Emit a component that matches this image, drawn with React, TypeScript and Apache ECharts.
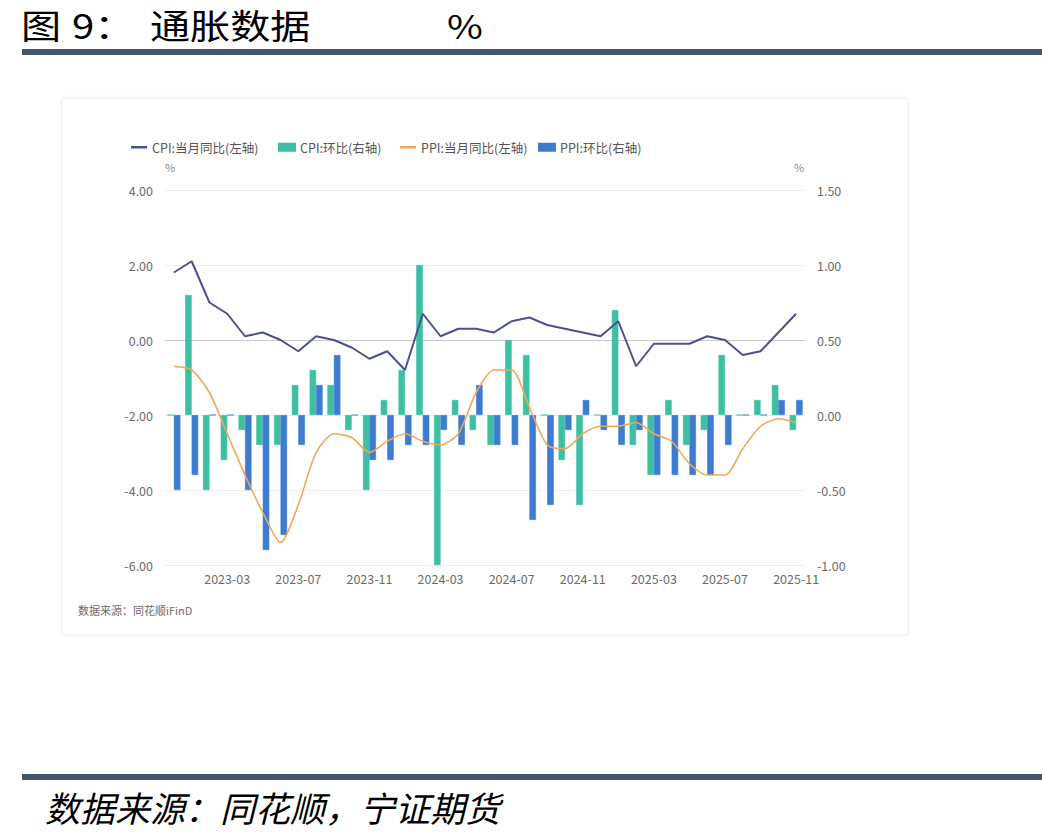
import React, { useEffect, useRef } from "react";
import * as echarts from "echarts";

// Monthly observations, 2022-12 through 2025-11
const months = [
  "2022-12", "2023-01", "2023-02", "2023-03", "2023-04", "2023-05", "2023-06",
  "2023-07", "2023-08", "2023-09", "2023-10", "2023-11", "2023-12", "2024-01",
  "2024-02", "2024-03", "2024-04", "2024-05", "2024-06", "2024-07", "2024-08",
  "2024-09", "2024-10", "2024-11", "2024-12", "2025-01", "2025-02", "2025-03",
  "2025-04", "2025-05", "2025-06", "2025-07", "2025-08", "2025-09", "2025-10",
  "2025-11",
];

// CPI year-on-year, % (left axis)
const cpiYoY = [
  1.8, 2.1, 1.0, 0.7, 0.1, 0.2, 0.0, -0.3, 0.1, 0.0, -0.2, -0.5, -0.3, -0.8,
  0.7, 0.1, 0.3, 0.3, 0.2, 0.5, 0.6, 0.4, 0.3, 0.2, 0.1, 0.5, -0.7, -0.1,
  -0.1, -0.1, 0.1, 0.0, -0.4, -0.3, 0.2, 0.7,
];

// CPI month-on-month, % (right axis)
const cpiMoM = [
  0.0, 0.8, -0.5, -0.3, -0.1, -0.2, -0.2, 0.2, 0.3, 0.2, -0.1, -0.5, 0.1, 0.3,
  1.0, -1.0, 0.1, -0.1, -0.2, 0.5, 0.4, 0.0, -0.3, -0.6, 0.0, 0.7, -0.2, -0.4,
  0.1, -0.2, -0.1, 0.4, 0.0, 0.1, 0.2, -0.1,
];

// PPI year-on-year, % (left axis)
const ppiYoY = [
  -0.7, -0.8, -1.4, -2.5, -3.6, -4.6, -5.4, -4.4, -3.0, -2.5, -2.6, -3.0, -2.7,
  -2.5, -2.7, -2.8, -2.5, -1.4, -0.8, -0.8, -1.8, -2.8, -2.9, -2.5, -2.3, -2.3,
  -2.2, -2.5, -2.7, -3.3, -3.6, -3.6, -2.9, -2.3, -2.1, -2.2,
];

// PPI month-on-month, % (right axis)
const ppiMoM = [
  -0.5, -0.4, 0.0, 0.0, -0.5, -0.9, -0.8, -0.2, 0.2, 0.4, 0.0, -0.3, -0.3, -0.2,
  -0.2, -0.1, -0.2, 0.2, -0.2, -0.2, -0.7, -0.6, -0.1, 0.1, -0.1, -0.2, -0.1,
  -0.4, -0.4, -0.4, -0.4, -0.2, 0.0, 0.0, 0.1, 0.1,
];

const seriesNames = [
  "CPI:当月同比(左轴)",
  "CPI:环比(右轴)",
  "PPI:当月同比(左轴)",
  "PPI:环比(右轴)",
];

const COLORS = {
  cpiLine: "#4d5090",
  cpiBar: "#3cbfa3",
  ppiLine: "#f2a65a",
  ppiBar: "#3d7ccf",
};

const CJK = '"Noto Sans CJK SC", "Noto Sans", sans-serif';

export default function App() {
  const ref = useRef<HTMLDivElement>(null);

  useEffect(() => {
    if (!ref.current) return;
    const chart = echarts.init(ref.current, undefined, { renderer: "svg" });

    const axisText = { color: "#6b6b6b", fontSize: 12.5, fontFamily: CJK };
    const legendText = { color: "#555", fontSize: 12.5, fontFamily: CJK };

    const heading = (text: string, x: number, size: number, y = 24) => ({
      type: "text",
      x,
      y,
      scaleX: 1.18,
      style: {
        text,
        font: `${size}px ${CJK}`,
        fill: "#000",
        verticalAlign: "middle",
      },
    });

    const legendAt = (name: string, left: number, isLine: boolean) => ({
      data: [{ name, icon: "rect" }],
      left,
      top: 136,
      itemWidth: 16,
      itemHeight: isLine ? 2.5 : 7,
      itemGap: 0,
      textStyle: legendText,
    });

    chart.setOption({
      animation: false,
      backgroundColor: "#ffffff",
      textStyle: { fontFamily: CJK },
      graphic: [
        // card behind the plot
        {
          type: "rect",
          z: -10,
          shape: { x: 62, y: 98, width: 846, height: 537, r: 3 },
          style: {
            fill: "#ffffff",
            stroke: "#ececec",
            lineWidth: 1,
            shadowBlur: 4,
            shadowColor: "rgba(0,0,0,0.06)",
          },
        },
        // heading
        heading("图", 21, 34),
        heading("9：", 72, 34),
        heading("通胀数据", 150, 34),
        heading("%", 447, 33),
        {
          type: "rect",
          shape: { x: 22, y: 49, width: 1020, height: 6 },
          style: { fill: "#44546a" },
        },
        {
          type: "rect",
          shape: { x: 22, y: 774, width: 1020, height: 6 },
          style: { fill: "#44546a" },
        },
        {
          type: "text",
          x: 45,
          y: 806,
          style: {
            text: "数据来源：同花顺，宁证期货",
            font: `italic 35px ${CJK}`,
            fill: "#000",
            verticalAlign: "middle",
          },
        },
        // source note inside the card
        {
          type: "text",
          x: 78,
          y: 610,
          style: {
            text: "数据来源：同花顺iFinD",
            font: `11px ${CJK}`,
            fill: "#6b6b6b",
            verticalAlign: "middle",
          },
        },
        // unit labels above both value axes
        {
          type: "text",
          x: 170,
          y: 167,
          style: {
            text: "%",
            font: `11px ${CJK}`,
            fill: "#8a8a8a",
            align: "center",
            verticalAlign: "middle",
          },
        },
        {
          type: "text",
          x: 799,
          y: 167,
          style: {
            text: "%",
            font: `11px ${CJK}`,
            fill: "#8a8a8a",
            align: "center",
            verticalAlign: "middle",
          },
        },
      ],
      legend: [
        legendAt(seriesNames[0], 126, true),
        legendAt(seriesNames[1], 273, false),
        legendAt(seriesNames[2], 395, true),
        legendAt(seriesNames[3], 533, false),
      ],
      grid: { left: 165, right: 237, top: 190, bottom: 274 },
      xAxis: {
        type: "category",
        data: months,
        boundaryGap: true,
        axisLine: { lineStyle: { color: "#c8c8c8" } },
        axisTick: { show: false },
        axisLabel: {
          ...axisText,
          margin: 7,
          interval: (index: number) => index % 4 === 3,
        },
      },
      yAxis: [
        {
          type: "value",
          min: -6,
          max: 4,
          interval: 2,
          axisLine: { show: false },
          axisTick: { show: false },
          splitLine: { lineStyle: { color: "#ededed" } },
          axisLabel: {
            ...axisText,
            margin: 12,
            formatter: (v: number) => v.toFixed(2),
          },
        },
        {
          type: "value",
          min: -1,
          max: 1.5,
          interval: 0.5,
          axisLine: { show: false },
          axisTick: { show: false },
          splitLine: { show: false },
          axisLabel: {
            ...axisText,
            margin: 12,
            formatter: (v: number) => v.toFixed(2),
          },
        },
      ],
      series: [
        {
          name: seriesNames[0],
          type: "line",
          yAxisIndex: 0,
          data: cpiYoY,
          symbol: "none",
          color: COLORS.cpiLine,
          lineStyle: { width: 2, color: COLORS.cpiLine },
          z: 5,
        },
        {
          name: seriesNames[1],
          type: "bar",
          yAxisIndex: 1,
          data: cpiMoM,
          color: COLORS.cpiBar,
          barWidth: 6.5,
          barGap: "0%",
          itemStyle: { borderColor: COLORS.cpiBar, borderWidth: 0.6 },
        },
        {
          name: seriesNames[2],
          type: "line",
          yAxisIndex: 0,
          data: ppiYoY,
          symbol: "none",
          smooth: 0.25,
          color: COLORS.ppiLine,
          lineStyle: { width: 1.6, color: COLORS.ppiLine },
          z: 4,
        },
        {
          name: seriesNames[3],
          type: "bar",
          yAxisIndex: 1,
          data: ppiMoM,
          color: COLORS.ppiBar,
          barWidth: 6.5,
          barGap: "0%",
          itemStyle: { borderColor: COLORS.ppiBar, borderWidth: 0.6 },
        },
      ],
    });

    return () => chart.dispose();
  }, []);

  return (
    <div
      ref={ref}
      style={{ position: "absolute", left: 0, top: 0, width: 1042, height: 839 }}
    />
  );
}
